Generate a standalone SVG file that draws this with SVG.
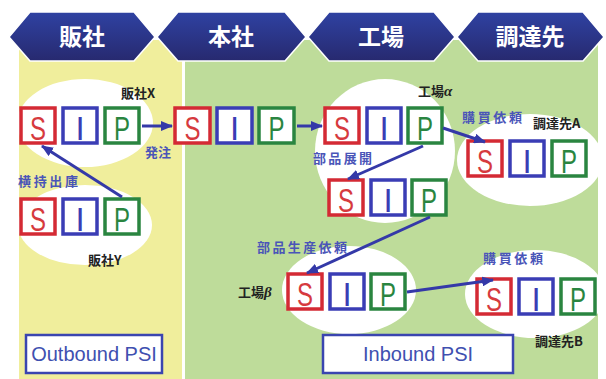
<svg xmlns="http://www.w3.org/2000/svg" width="606" height="379" viewBox="0 0 606 379">
<defs>
<linearGradient id="hg" x1="0" y1="0" x2="0" y2="1">
<stop offset="0" stop-color="#2f42a2"/>
<stop offset="1" stop-color="#27296f"/>
</linearGradient>
<marker id="ah" viewBox="0 0 12 10" refX="11" refY="5" markerWidth="12" markerHeight="10" markerUnits="userSpaceOnUse" orient="auto">
<path d="M0,0 L12,5 L0,10 Z" fill="#3439a8"/>
</marker>
<style>
.hex{fill:url(#hg);stroke:#ffffff;stroke-width:1.5}
.ht{font-family:"Noto Sans CJK JP",sans-serif;font-weight:bold;font-size:23px;fill:#ffffff;text-anchor:middle}
.ell{fill:#ffffff}
.bs{fill:#ffffff;stroke:#d42a34;stroke-width:3.5}
.bi{fill:#ffffff;stroke:#3a3db5;stroke-width:3.5}
.bp{fill:#ffffff;stroke:#2a8540;stroke-width:3.5}
.ls{font-family:"Liberation Sans",sans-serif;font-size:33px;fill:#d63a3e;text-anchor:middle}
.li{font-family:"Liberation Sans",sans-serif;font-size:33px;fill:#3a3db5;text-anchor:middle}
.lp{font-family:"Liberation Sans",sans-serif;font-size:33px;fill:#2a8540;text-anchor:middle}
.arr{stroke:#3439a8;stroke-width:3;fill:none;marker-end:url(#ah)}
.bl{font-family:"Noto Sans CJK JP",sans-serif;font-size:13px;font-weight:bold;fill:#4a55b8}
.kl{font-family:"Noto Sans CJK JP",sans-serif;font-size:13px;font-weight:bold;fill:#222222}
.psi{fill:#ffffff;stroke:#3a45b0;stroke-width:2.5}
.pt{font-family:"Liberation Sans",sans-serif;font-size:20px;fill:#4050b0;text-anchor:middle}
</style>
</defs>
<rect x="19" y="40" width="163" height="339" fill="#f0ee9c"/>
<rect x="185" y="40" width="413" height="339" fill="#bedc9a"/>

<g id="header">
<g id="h-hansha"><polygon class="hex" points="9,37 30,12 134,12 155,37 134,61 30,61"/><text class="ht" x="82" y="45">販社</text></g>
<g id="h-honsha"><polygon class="hex" points="157,37 178,12 285,12 306,37 285,61 178,61"/><text class="ht" x="231" y="45">本社</text></g>
<g id="h-kojo"><polygon class="hex" points="308,37 329,12 434,12 455,37 434,61 329,61"/><text class="ht" x="381" y="45">工場</text></g>
<g id="h-chotatsu"><polygon class="hex" points="457,37 478,12 583,12 604,37 583,61 478,61"/><text class="ht" x="530" y="45">調達先</text></g>
</g>

<g id="ellipses">
<ellipse class="ell" cx="85" cy="123" rx="68" ry="44"/>
<ellipse class="ell" cx="85" cy="225" rx="67" ry="40"/>
<ellipse class="ell" cx="385" cy="151" rx="70" ry="72"/>
<ellipse class="ell" cx="530" cy="160" rx="73" ry="46"/>
<ellipse class="ell" cx="349" cy="290" rx="67" ry="44"/>
<ellipse class="ell" cx="535" cy="294" rx="70" ry="44"/>
</g>

<g id="hanshaX">
<rect class="bs" x="21" y="108" width="34" height="35"/><text class="ls" x="38" y="140" textLength="16" lengthAdjust="spacingAndGlyphs">S</text>
<rect class="bi" x="63" y="108" width="34" height="35"/><text class="li" x="80" y="140">I</text>
<rect class="bp" x="105" y="108" width="34" height="35"/><text class="lp" x="122" y="140" textLength="16" lengthAdjust="spacingAndGlyphs">P</text>
<text class="kl" x="121" y="98">販社X</text>
</g>

<g id="hanshaY">
<rect class="bs" x="21" y="199" width="34" height="35"/><text class="ls" x="38" y="231" textLength="16" lengthAdjust="spacingAndGlyphs">S</text>
<rect class="bi" x="63" y="199" width="34" height="35"/><text class="li" x="80" y="231">I</text>
<rect class="bp" x="105" y="199" width="34" height="35"/><text class="lp" x="122" y="231" textLength="16" lengthAdjust="spacingAndGlyphs">P</text>
<text class="kl" x="88" y="265">販社Y</text>
</g>

<g id="honsha">
<rect class="bs" x="175" y="108" width="35" height="35"/><text class="ls" x="192.5" y="140" textLength="16" lengthAdjust="spacingAndGlyphs">S</text>
<rect class="bi" x="217" y="108" width="35" height="35"/><text class="li" x="234.5" y="140">I</text>
<rect class="bp" x="259" y="108" width="35" height="35"/><text class="lp" x="276.5" y="140" textLength="16" lengthAdjust="spacingAndGlyphs">P</text>
</g>

<g id="kojoA">
<rect class="bs" x="325" y="108" width="34" height="35"/><text class="ls" x="342" y="140" textLength="16" lengthAdjust="spacingAndGlyphs">S</text>
<rect class="bi" x="367" y="108" width="34" height="35"/><text class="li" x="384" y="140">I</text>
<rect class="bp" x="408" y="108" width="34" height="35"/><text class="lp" x="425" y="140" textLength="16" lengthAdjust="spacingAndGlyphs">P</text>
<text class="kl" x="418" y="96">工場<tspan font-style="italic" font-family="Liberation Serif, serif" font-size="15">α</tspan></text>
</g>

<g id="buhin">
<rect class="bs" x="329" y="180" width="34" height="35"/><text class="ls" x="346" y="212" textLength="16" lengthAdjust="spacingAndGlyphs">S</text>
<rect class="bi" x="371" y="180" width="34" height="35"/><text class="li" x="388" y="212">I</text>
<rect class="bp" x="412" y="180" width="34" height="35"/><text class="lp" x="429" y="212" textLength="16" lengthAdjust="spacingAndGlyphs">P</text>
</g>

<g id="chotatsuA">
<rect class="bs" x="468" y="141" width="34" height="35"/><text class="ls" x="485" y="173" textLength="16" lengthAdjust="spacingAndGlyphs">S</text>
<rect class="bi" x="510" y="141" width="34" height="35"/><text class="li" x="527" y="173">I</text>
<rect class="bp" x="552" y="141" width="34" height="35"/><text class="lp" x="569" y="173" textLength="16" lengthAdjust="spacingAndGlyphs">P</text>
<text class="kl" x="533" y="128">調達先A</text>
</g>

<g id="kojoB">
<rect class="bs" x="288" y="274" width="34" height="35"/><text class="ls" x="305" y="306" textLength="16" lengthAdjust="spacingAndGlyphs">S</text>
<rect class="bi" x="330" y="274" width="34" height="35"/><text class="li" x="347" y="306">I</text>
<rect class="bp" x="371" y="274" width="34" height="35"/><text class="lp" x="388" y="306" textLength="16" lengthAdjust="spacingAndGlyphs">P</text>
<text class="kl" x="238" y="297">工場<tspan font-style="italic" font-family="Liberation Serif, serif" font-size="15">β</tspan></text>
</g>

<g id="chotatsuB">
<rect class="bs" x="477" y="279" width="34" height="35"/><text class="ls" x="494" y="311" textLength="16" lengthAdjust="spacingAndGlyphs">S</text>
<rect class="bi" x="519" y="279" width="34" height="35"/><text class="li" x="536" y="311">I</text>
<rect class="bp" x="561" y="279" width="34" height="35"/><text class="lp" x="578" y="311" textLength="16" lengthAdjust="spacingAndGlyphs">P</text>
<text class="kl" x="535" y="346">調達先B</text>
</g>

<g id="connectors">
<line class="arr" x1="142" y1="126" x2="172" y2="126"/>
<line class="arr" x1="122" y1="197" x2="42" y2="146"/>
<line class="arr" x1="297" y1="126" x2="322" y2="126"/>
<line class="arr" x1="443" y1="128" x2="485" y2="142"/>
<line class="arr" x1="423" y1="146" x2="348" y2="179"/>
<line class="arr" x1="430" y1="217" x2="307" y2="273"/>
<line class="arr" x1="407" y1="292" x2="493" y2="280"/>
</g>

<g id="labels">
<text class="bl" x="145" y="157">発注</text>
<text class="bl" x="18" y="186" textLength="60">横持出庫</text>
<text class="bl" x="313" y="163" textLength="59">部品展開</text>
<text class="bl" x="462" y="122" textLength="60">購買依頼</text>
<text class="bl" x="257" y="252" textLength="90">部品生産依頼</text>
<text class="bl" x="483" y="263" textLength="60">購買依頼</text>
</g>

<g id="outbound">
<rect class="psi" x="26" y="335" width="136" height="38"/>
<text class="pt" x="94" y="361">Outbound PSI</text>
</g>
<g id="inbound">
<rect class="psi" x="323" y="335" width="190" height="38"/>
<text class="pt" x="418" y="361">Inbound PSI</text>
</g>
</svg>
